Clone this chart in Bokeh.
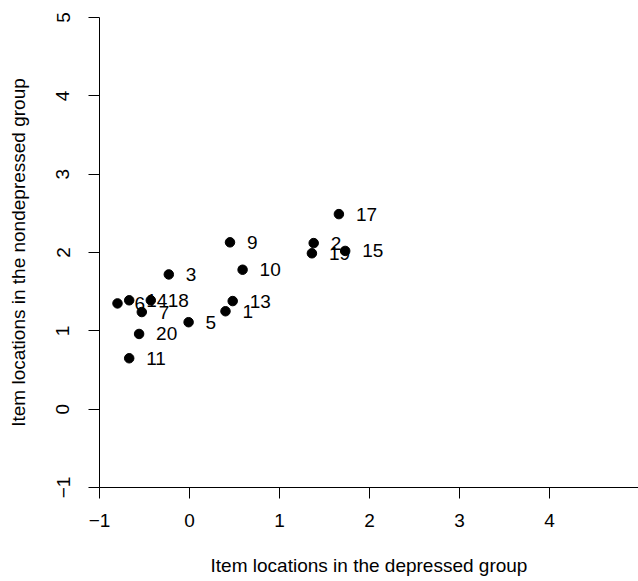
from bokeh.plotting import figure
from bokeh.models import ColumnDataSource, FixedTicker, Range1d, Label
from bokeh.core.properties import value
from bokeh.embed import file_html
from bokeh.resources import INLINE

# Item numbers and their locations
items = ["1", "2", "3", "5", "6", "7", "9", "10", "11", "13", "14", "15", "17", "18", "19", "20"]
x_depressed = [0.40, 1.38, -0.23, -0.01, -0.80, -0.53, 0.45, 0.59, -0.67, 0.48, -0.67, 1.73, 1.66, -0.43, 1.36, -0.56]
y_nondepressed = [1.25, 2.12, 1.72, 1.11, 1.35, 1.24, 2.13, 1.78, 0.65, 1.38, 1.39, 2.02, 2.49, 1.39, 1.99, 0.96]

x_ticks = [-1, 0, 1, 2, 3, 4, 5]
y_ticks = [-1, 0, 1, 2, 3, 4, 5]
x_title = "Item locations in the depressed group"
y_title = "Item locations in the nondepressed group"

FONT = "Liberation Sans"
FS = "19px"

src = ColumnDataSource(dict(x=x_depressed, y=y_nondepressed, label=items))

p = figure(width=638, height=578, output_backend="svg", toolbar_location=None,
           x_range=Range1d(-1, 4.9889), y_range=Range1d(-1, 5),
           min_border_left=99, min_border_right=0, min_border_top=17, min_border_bottom=90,
           background_fill_color="white", border_fill_color="white")
p.outline_line_color = None
p.xgrid.visible = False
p.ygrid.visible = False

p.scatter("x", "y", source=src, size=9.5, color="black")
p.text("x", "y", text="label", source=src, x_offset=17, text_align="left",
       text_baseline="middle", text_font=value(FONT), text_font_size=FS, text_color="black")

minus = {-1: "\u22121"}
for ax, ticks, title, so, lso in [(p.xaxis[0], x_ticks, x_title, 15, 25), (p.yaxis[0], y_ticks, y_title, 19, 25)]:
    ax.ticker = FixedTicker(ticks=ticks)
    ax.major_label_overrides = minus
    ax.minor_tick_line_color = None
    ax.major_tick_out = 11
    ax.major_tick_in = 0
    ax.axis_line_color = "black"
    ax.major_tick_line_color = "black"
    ax.major_label_text_font = FONT
    ax.major_label_text_font_size = FS
    ax.major_label_text_color = "black"
    ax.major_label_standoff = so
    ax.axis_label = title
    ax.axis_label_text_font = FONT
    ax.axis_label_text_font_size = FS
    ax.axis_label_text_font_style = "normal"
    ax.axis_label_text_color = "black"
    ax.axis_label_standoff = lso

p.yaxis[0].major_label_orientation = "parallel"

# partially visible "5" tick label at the right edge (cut off in the reference too)
p.add_layout(Label(x=5, y=-1.446, text="5", text_align="center", text_baseline="middle",
                   text_font=FONT, text_font_size=FS, text_color="black"))

open("out.html", "w").write(file_html(p, INLINE))
